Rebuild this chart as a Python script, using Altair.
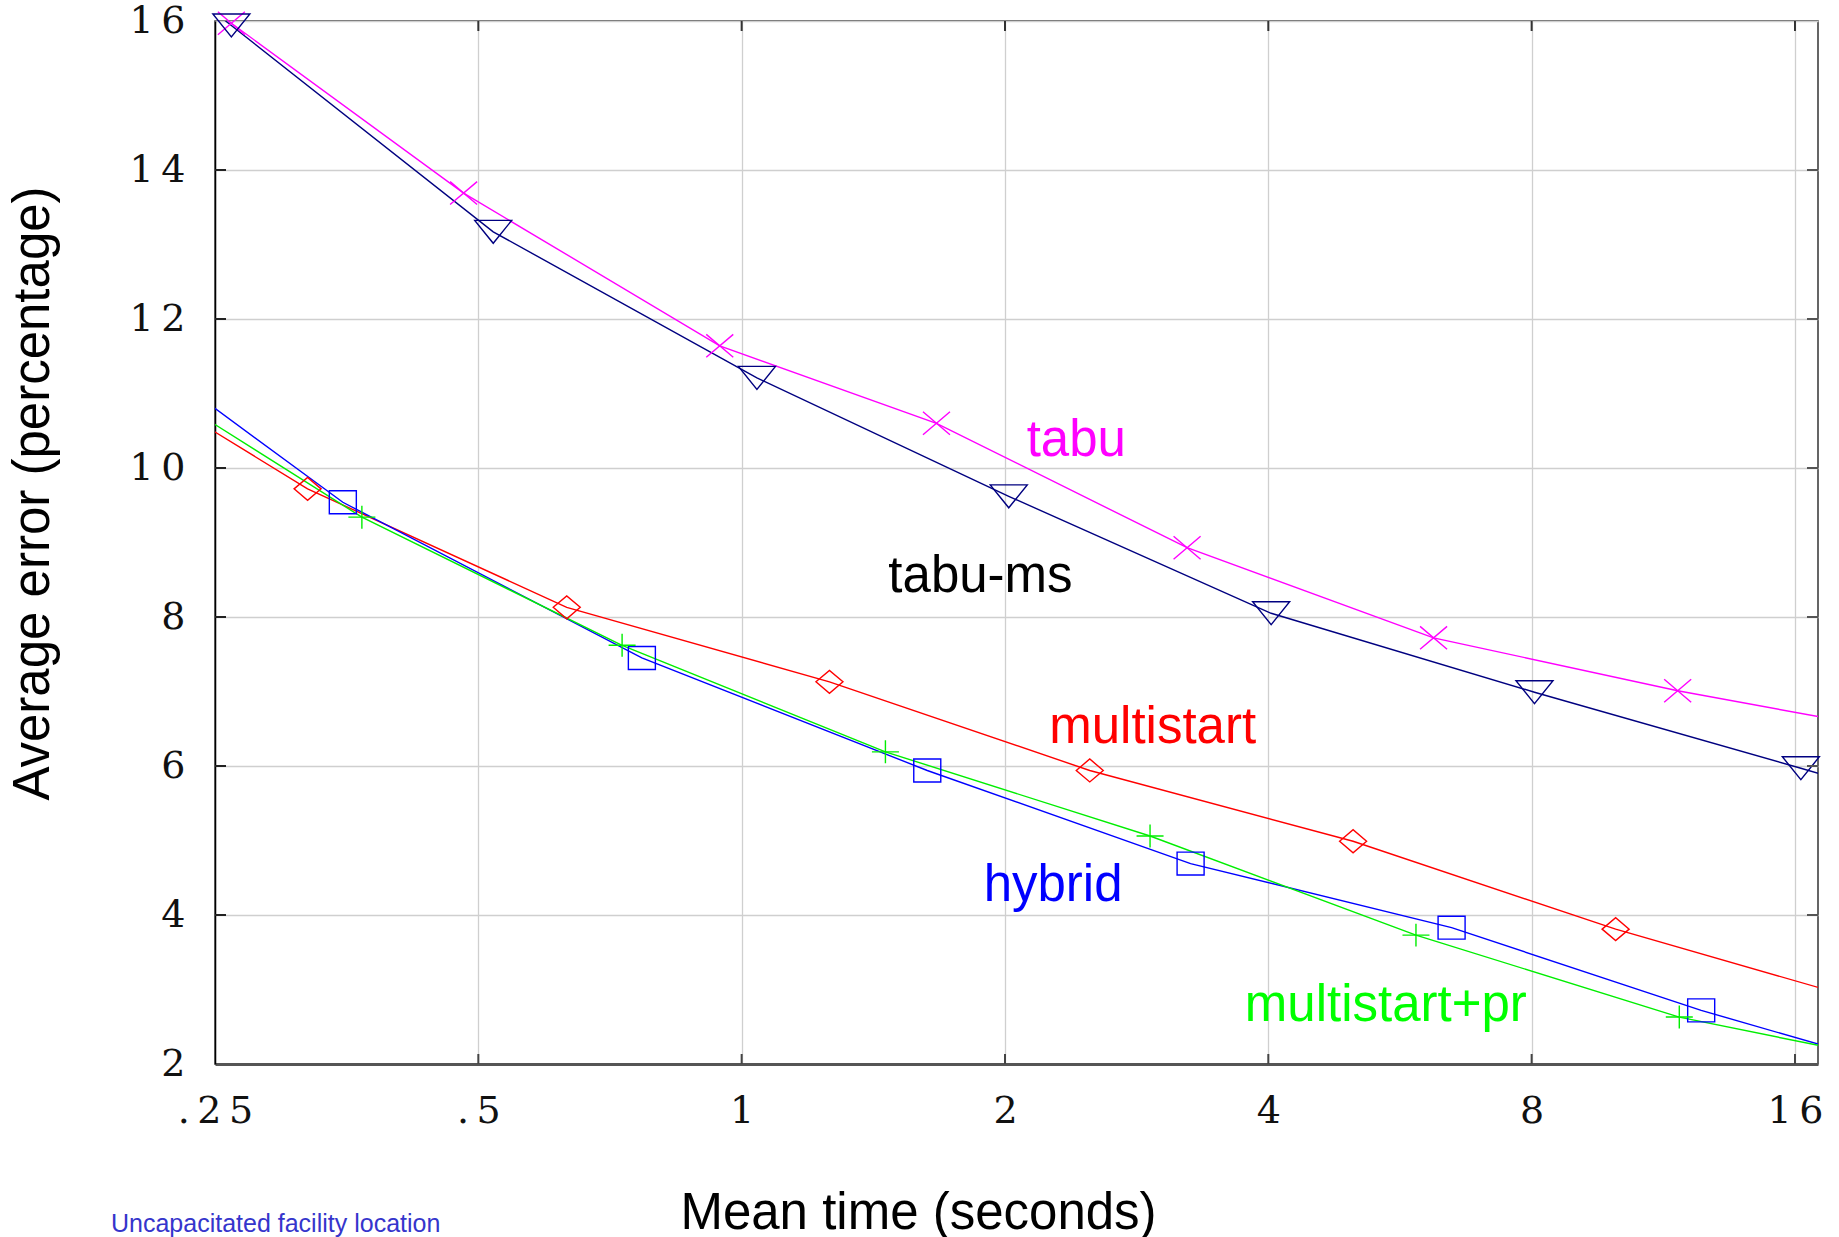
import altair as alt
import pandas as pd

# ---------------- data ----------------
series_names = ["tabu", "tabu-ms", "multistart", "hybrid", "multistart+pr"]
series_colors = ["#ff00ff", "#000080", "#ff0000", "#0000ff", "#00ee00"]
label_colors = ["#ff00ff", "#000000", "#ff0000", "#0000ff", "#00ff00"]

tabu_time = [0.13, 0.261, 0.481, 0.944, 1.67, 3.23, 6.18, 11.75, 22.3]
tabu_err = [18.6, 15.97, 13.69, 11.64, 10.60, 8.93, 7.72, 7.01, 6.41]

tabums_time = [0.13, 0.261, 0.520, 1.041, 2.02, 4.03, 8.06, 16.25, 32.0]
tabums_err = [18.74, 15.94, 13.17, 11.21, 9.62, 8.05, 6.99, 5.97, 4.96]

multi_time = [0.159, 0.319, 0.631, 1.26, 2.50, 5.0, 9.98, 20.0]
multi_err = [11.9, 9.72, 8.13, 7.13, 5.94, 4.99, 3.81, 2.79]

hybrid_time = [0.167, 0.350, 0.769, 1.63, 3.26, 6.48, 12.5, 25.0]
hybrid_err = [12.31, 9.54, 7.45, 5.94, 4.69, 3.83, 2.72, 1.70]

mpr_time = [0.184, 0.368, 0.730, 1.46, 2.93, 5.90, 11.8, 23.6]
mpr_err = [11.57, 9.34, 7.62, 6.19, 5.06, 3.73, 2.63, 1.91]

label_time = [2.413, 1.875, 2.95, 2.27, 5.45]
label_err = [10.16, 8.34, 6.31, 4.19, 2.58]

x_ticks = [0.25, 0.5, 1, 2, 4, 8, 16]
x_tick_labels = [".25", ".5", "1", "2", "4", "8", "16"]
y_ticks = [2, 4, 6, 8, 10, 12, 14, 16]
y_tick_labels = ["2", "4", "6", "8", "10", "12", "14", "16"]

footer_text = ["Uncapacitated facility location"]

# ---------------- build tables ----------------
all_series = [
    (tabu_time, tabu_err),
    (tabums_time, tabums_err),
    (multi_time, multi_err),
    (hybrid_time, hybrid_err),
    (mpr_time, mpr_err),
]
rows = []
for name, (ts, es) in zip(series_names, all_series):
    for i, (t, e) in enumerate(zip(ts, es)):
        rows.append({"series": name, "time": t, "err": e, "order": i})
df = pd.DataFrame(rows)
X_MIN, X_MAX = 0.25, 17.0
Y_MIN, Y_MAX = 2, 16
df_pts = df[(df.time >= X_MIN) & (df.time <= X_MAX) & (df.err >= Y_MIN) & (df.err <= Y_MAX)]

df_lab = pd.DataFrame({"series": series_names, "time": label_time,
                       "err": label_err, "lc": label_colors})

THIN = "\u2009"


def spaced(s):
    return THIN.join(list(s)) if len(s) > 1 else s


def label_expr(vals, labs):
    expr = "''"
    for v, l in zip(vals, labs):
        expr = f"abs(datum.value - {v}) < 1e-6 ? '{spaced(l)}' : ({expr})"
    return expr


W, H = 1603, 1043

xscale = alt.Scale(type="log", base=2, domain=[X_MIN, X_MAX], nice=False)
yscale = alt.Scale(domain=[Y_MIN, Y_MAX], nice=False, zero=False)

color_scale = alt.Scale(domain=series_names, range=series_colors)
shape_paths = [
    "M-0.73,-0.62L0.73,0.62M-0.73,0.62L0.73,-0.62",
    "M-1,-0.62L1,-0.62L0,0.62Z",
    "M-0.73,0L0,-0.62L0.73,0L0,0.62Z",
    "M-0.73,-0.62L0.73,-0.62L0.73,0.62L-0.73,0.62Z",
    "M-0.73,0L0.73,0M0,-0.62L0,0.62",
]
shape_scale = alt.Scale(domain=series_names, range=shape_paths)

tick_font = "DejaVu Serif"
title_font = "Liberation Sans"

x_axis = alt.Axis(
    values=x_ticks, labelExpr=label_expr(x_ticks, x_tick_labels),
    grid=True, gridColor="#cfcfcf", gridWidth=1.3,
    ticks=False, domain=True, domainColor="#555555", domainWidth=3,
    labelFont=tick_font, labelFontSize=38, labelColor="#111",
    labelPadding=28, labelBaseline="top", labelFlush=False, labelOverlap=False,
    title="Mean time (seconds)", titleFont=title_font, titleFontSize=51,
    titleFontWeight="normal", titleColor="#000",
    titleX=703, titleY=164, titleBaseline="alphabetic", titleAlign="center",
)
y_axis = alt.Axis(
    values=y_ticks, labelExpr=label_expr(y_ticks, y_tick_labels),
    grid=True, gridColor="#cfcfcf", gridWidth=1.3,
    ticks=False, domain=True, domainColor="#000000", domainWidth=1.5,
    labelFont=tick_font, labelFontSize=38, labelColor="#111",
    labelPadding=30, labelBaseline="middle", labelFlush=False, labelOverlap=False,
    title="Average error (percentage)", titleFont=title_font, titleFontSize=51,
    titleFontWeight="normal", titleColor="#000",
    titleX=-167, titleY=472, titleAngle=-90, titleBaseline="alphabetic",
    titleAlign="center",
)

base = alt.Chart(df)

lines = base.mark_line(strokeWidth=1.4, clip=True).encode(
    x=alt.X("time:Q", scale=xscale, axis=x_axis),
    y=alt.Y("err:Q", scale=yscale, axis=y_axis),
    color=alt.Color("series:N", scale=color_scale, legend=None),
    detail="series:N",
    order="order:Q",
)

points = alt.Chart(df_pts).mark_point(filled=False, strokeWidth=1.4, size=1369, opacity=1).encode(
    x=alt.X("time:Q", scale=xscale),
    y=alt.Y("err:Q", scale=yscale),
    color=alt.Color("series:N", scale=color_scale, legend=None),
    shape=alt.Shape("series:N", scale=shape_scale, legend=None),
)

labels = alt.Chart(df_lab).mark_text(
    font=title_font, fontSize=51, align="center", baseline="alphabetic"
).encode(
    x=alt.X("time:Q", scale=xscale),
    y=alt.Y("err:Q", scale=yscale),
    text="series:N",
    color=alt.Color("lc:N", scale=None),
)

# inward tick marks on the four sides of the frame
df_xt = pd.DataFrame({"time": x_ticks[1:]})
df_yt = pd.DataFrame({"err": y_ticks[1:-1]})

top_ticks = alt.Chart(df_xt).mark_rule(color="#333333", strokeWidth=2).encode(
    x=alt.X("time:Q", scale=xscale), y=alt.value(0), y2=alt.value(10))
bottom_ticks = alt.Chart(df_xt).mark_rule(color="#444444", strokeWidth=2).encode(
    x=alt.X("time:Q", scale=xscale), y=alt.value(H - 10), y2=alt.value(H))
left_ticks = alt.Chart(df_yt).mark_rule(color="#222222", strokeWidth=2).encode(
    y=alt.Y("err:Q", scale=yscale), x=alt.value(0), x2=alt.value(11))
right_ticks = alt.Chart(df_yt).mark_rule(color="#555555", strokeWidth=2).encode(
    y=alt.Y("err:Q", scale=yscale), x=alt.value(W - 11), x2=alt.value(W))

footer = alt.Chart(pd.DataFrame({"t": footer_text})).mark_text(
    font="Liberation Sans", fontSize=25, align="left", baseline="alphabetic",
    color="#3535cc"
).encode(text="t:N", x=alt.value(-104), y=alt.value(1211))

chart = alt.layer(
    lines, points, labels, top_ticks, bottom_ticks, left_ticks, right_ticks, footer
).properties(
    width=W, height=H,
    autosize=alt.AutoSizeParams(type="none"),
    padding={"left": 215, "top": 21, "right": 21, "bottom": 173},
    background="white",
).configure_view(
    stroke="#333333", strokeWidth=1.5
)

chart.save("out.html", embed_options={"renderer": "svg", "actions": False})
